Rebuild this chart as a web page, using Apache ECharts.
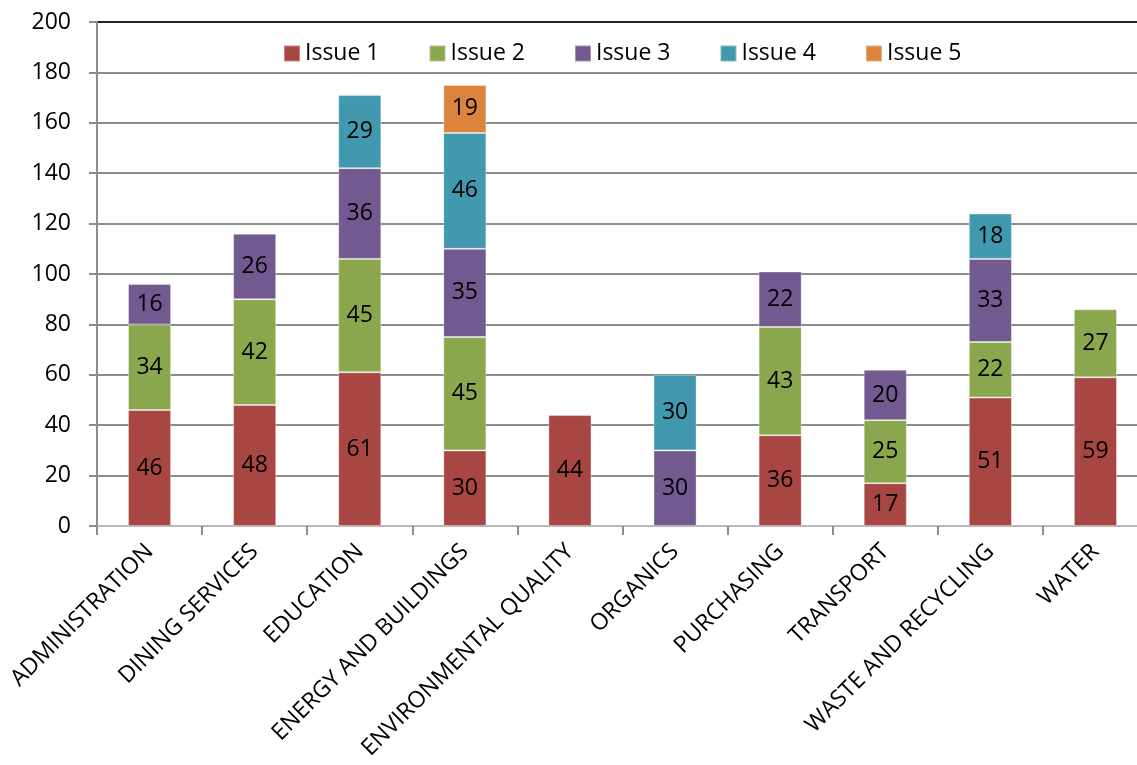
<!DOCTYPE html>
<html>
<head>
<meta charset="utf-8">
<script src="https://cdn.jsdelivr.net/npm/echarts@6/dist/echarts.min.js"></script>
<style>
html,body{margin:0;padding:0;background:#fff;overflow:hidden;width:1137px;height:765px;}
#chart{width:1150px;height:765px;}
</style>
</head>
<body>
<div id="chart"></div>
<script>
var categories = ['ADMINISTRATION','DINING SERVICES','EDUCATION','ENERGY AND BUILDINGS','ENVIRONMENTAL QUALITY','ORGANICS','PURCHASING','TRANSPORT','WASTE AND RECYCLING','WATER'];
var issue1 = [46, 48, 61, 30, 44, null, 36, 17, 51, 59];
var issue2 = [34, 42, 45, 45, null, null, 43, 25, 22, 27];
var issue3 = [16, 26, 36, 35, null, 30, 22, 20, 33, null];
var issue4 = [null, null, 29, 46, null, 30, null, null, 18, null];
var issue5 = [null, null, null, 19, null, null, null, null, null, null];
var seriesNames = ['Issue 1','Issue 2','Issue 3','Issue 4','Issue 5'];
var seriesColors = ['#A84643','#8BA74D','#72598F','#4299AF','#DC843D'];
var yTicks = [0,20,40,60,80,100,120,140,160,180,200];

var FONT = 'Open Sans';
var chart = echarts.init(document.getElementById('chart'));
var allData = [issue1, issue2, issue3, issue4, issue5];
var series = allData.map(function(d, i){
  return {
    name: seriesNames[i],
    type: 'bar',
    stack: 'total',
    data: d,
    barWidth: '41%',
    itemStyle: {color: seriesColors[i], borderColor: 'rgba(255,255,255,0.35)', borderWidth: 1},
    label: {show: true, position: 'inside', color: '#000', fontFamily: FONT, fontSize: 23},
    emphasis: {disabled: true}
  };
});
var splitColors = yTicks.map(function(v){ return v === 200 ? '#222' : '#8c8c8c'; });
chart.setOption({
  animation: false,
  textStyle: {fontFamily: FONT},
  legend: {
    data: seriesNames,
    left: 278, top: 37,
    itemWidth: 16, itemHeight: 16,
    itemGap: 49,
    icon: 'rect',
    textStyle: {fontFamily: FONT, fontSize: 23, color: '#000'}
  },
  grid: {left: 97, top: 22, width: 1051, bottom: 239, containLabel: false},
  xAxis: {
    type: 'category',
    data: categories,
    axisLine: {lineStyle: {color: '#b8b8b8', width: 2}},
    axisTick: {show: true, length: 9, lineStyle: {color: '#8c8c8c', width: 2}},
    axisLabel: {rotate: 45, interval: 0, margin: 22, color: '#000', fontFamily: FONT, fontSize: 23}
  },
  yAxis: {
    type: 'value',
    min: 0, max: 200, interval: 20,
    axisLine: {show: true, lineStyle: {color: '#8c8c8c', width: 2}},
    axisTick: {show: true, length: 8, lineStyle: {color: '#8c8c8c', width: 2}},
    axisLabel: {margin: 26, color: '#000', fontFamily: FONT, fontSize: 23},
    splitLine: {show: true, lineStyle: {color: splitColors, width: 2}}
  },
  series: series
});
</script>
</body>
</html>
